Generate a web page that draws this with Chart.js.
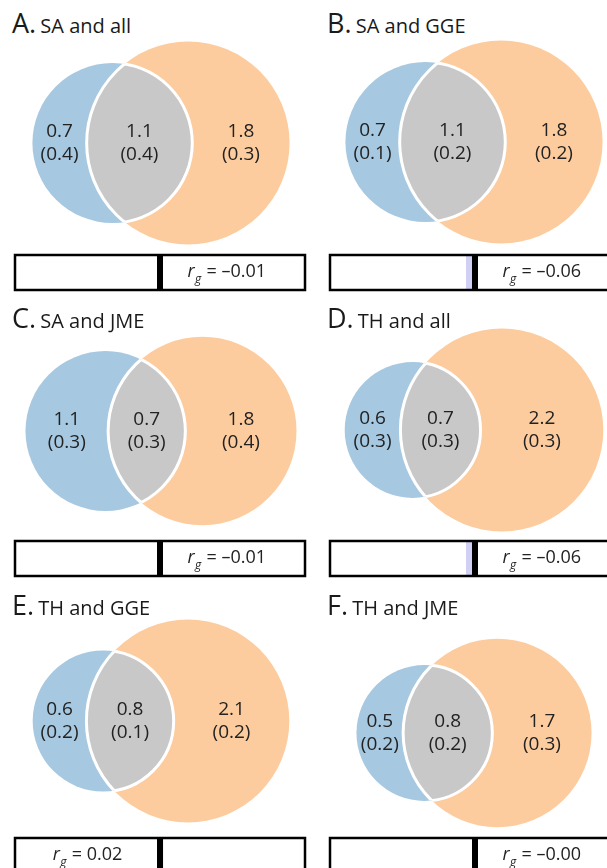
<!DOCTYPE html>
<html>
<head>
<meta charset="utf-8">
<script src="https://cdn.jsdelivr.net/npm/chart.js@4.4.1/dist/chart.umd.min.js"></script>
<style>
body { margin:0; background:#fff; font-family:"Open Sans", sans-serif; }
#fig { position:relative; width:607px; height:868px; overflow:hidden; }
.title { position:absolute; color:#1a1a1a; white-space:nowrap; line-height:30px; }
.title .letter { font-size:27px; }
.title .name { font-size:20px; }
canvas { position:absolute; }
</style>
</head>
<body>
<div id="fig"></div>
<script>
// panels
const panelLetters = ["A", "B", "C", "D", "E", "F"];
const panelNames = ["SA and all", "SA and GGE", "SA and JME", "TH and all", "TH and GGE", "TH and JME"];
// SNP heritability: unique to left trait, shared, unique to right trait
const leftOnly  = [0.7, 0.7, 1.1, 0.6, 0.6, 0.5];
const shared    = [1.1, 1.1, 0.7, 0.7, 0.8, 0.8];
const rightOnly = [1.8, 1.8, 1.8, 2.2, 2.1, 1.7];
// standard errors
const leftSE   = [0.4, 0.1, 0.3, 0.3, 0.2, 0.2];
const sharedSE = [0.4, 0.2, 0.3, 0.3, 0.1, 0.2];
const rightSE  = [0.3, 0.2, 0.4, 0.3, 0.2, 0.3];
// genetic correlation
const rgValues = [-0.01, -0.06, -0.01, -0.06, 0.02, -0.00];

// layout (pixels)
const colX = [0, 315, 0, 315, 0, 315];
const colCentre = [161, 474, 161, 474, 161, 474];
const titleBase = [33, 33, 328, 328, 615, 615];
const vennCy = [143, 142, 431, 430, 721, 733];
const boxTop = [255, 255, 541, 541, 838, 838];
const PPU = 105.6; // px per venn unit (circle area = value)

const BLUE = "rgb(166,200,224)";
const ORANGE = "rgb(253,204,158)";
const GREY = "rgb(200,200,200)";
const INK = "#222";

function lensArea(r1, r2, d) {
	if (d >= r1 + r2) return 0;
	if (d <= Math.abs(r1 - r2)) return Math.PI * Math.min(r1, r2) ** 2;
	let a1 = Math.acos((d*d + r1*r1 - r2*r2) / (2*d*r1));
	let a2 = Math.acos((d*d + r2*r2 - r1*r1) / (2*d*r2));
	return r1*r1*a1 + r2*r2*a2 - 0.5*Math.sqrt((-d+r1+r2)*(d+r1-r2)*(d-r1+r2)*(d+r1+r2));
}

function centreDistance(r1, r2, target) {
	let lo = Math.abs(r1 - r2), hi = r1 + r2;
	for (let i = 0; i < 60; i++) {
		let mid = (lo + hi) / 2;
		if (lensArea(r1, r2, mid) > target) lo = mid; else hi = mid;
	}
	return (lo + hi) / 2;
}

function fmt(v) {
	let neg = v < 0 || Object.is(v, -0);
	return (neg ? "\u2013" : "") + Math.abs(v).toFixed(2);
}

function circle(ctx, x, y, r) {
	ctx.beginPath();
	ctx.arc(x, y, r, 0, Math.PI * 2);
}

const vennPlugin = {
	id: "venn",
	afterDatasetsDraw(chart, args, o) {
		const ctx = chart.ctx, xs = chart.scales.x, ys = chart.scales.y;
		const x1 = xs.getPixelForValue(0), x2 = xs.getPixelForValue(o.d), cy = ys.getPixelForValue(0);
		const r1 = xs.getPixelForValue(o.r1) - x1;
		const r2 = xs.getPixelForValue(o.d + o.r2) - x2;
		ctx.save();
		circle(ctx, x1, cy, r1); ctx.fillStyle = BLUE; ctx.fill();
		circle(ctx, x2, cy, r2); ctx.fillStyle = ORANGE; ctx.fill();
		ctx.save();
		circle(ctx, x1, cy, r1); ctx.clip();
		circle(ctx, x2, cy, r2); ctx.fillStyle = GREY; ctx.fill();
		ctx.lineWidth = 3; ctx.strokeStyle = "#fff"; ctx.stroke();
		ctx.restore();
		ctx.save();
		circle(ctx, x2, cy, r2); ctx.clip();
		circle(ctx, x1, cy, r1);
		ctx.lineWidth = 3; ctx.strokeStyle = "#fff"; ctx.stroke();
		ctx.restore();

		const xsPos = [
			((x1 - r1) + (x2 - r2)) / 2,
			((x2 - r2) + (x1 + r1)) / 2,
			((x1 + r1) + (x2 + r2)) / 2
		];
		ctx.fillStyle = INK;
		ctx.font = "19px 'Open Sans'";
		ctx.textAlign = "center";
		ctx.textBaseline = "alphabetic";
		for (let i = 0; i < 3; i++) {
			ctx.fillText(o.values[i].toFixed(1), xsPos[i], cy - 6);
			ctx.fillText("(" + o.errors[i].toFixed(1) + ")", xsPos[i], cy + 17);
		}
		ctx.restore();
	}
};

const rgPlugin = {
	id: "rgbox",
	afterDatasetsDraw(chart, args, o) {
		const ctx = chart.ctx, a = chart.chartArea, xs = chart.scales.x;
		ctx.save();
		// zero line
		const x0 = xs.getPixelForValue(0);
		ctx.fillStyle = "#000";
		ctx.fillRect(x0 - 3, a.top, 6, a.bottom - a.top);
		// frame
		ctx.lineWidth = 2.5;
		ctx.strokeStyle = "#000";
		ctx.strokeRect(a.left, a.top, a.right - a.left, a.bottom - a.top);
		// label on the opposite side of the bar
		const v = o.value;
		const neg = v < 0 || Object.is(v, -0);
		const cx = xs.getPixelForValue(neg ? 0.46 : -0.5);
		const base = a.top + 22;
		const rest = " = " + fmt(v);
		ctx.fillStyle = INK;
		ctx.textBaseline = "alphabetic";
		ctx.textAlign = "left";
		ctx.font = "italic 18px 'Open Sans'";
		const wr = ctx.measureText("r").width;
		ctx.font = "italic 12px 'Open Sans'";
		const wg = ctx.measureText("g").width;
		ctx.font = "18px 'Open Sans'";
		const wrest = ctx.measureText(rest).width;
		let x = cx - (wr + wg + 1 + wrest) / 2;
		ctx.font = "italic 18px 'Open Sans'";
		ctx.fillText("r", x, base);
		x += wr + 0.5;
		ctx.font = "italic 12px 'Open Sans'";
		ctx.fillText("g", x, base + 6);
		x += wg + 0.5;
		ctx.font = "18px 'Open Sans'";
		ctx.fillText(rest, x, base);
		ctx.restore();
	}
};

const fig = document.getElementById("fig");

for (let p = 0; p < 6; p++) {
	// title
	const t = document.createElement("div");
	t.className = "title";
	t.innerHTML = '<span class="letter">' + panelLetters[p] + '.</span> <span class="name">' + panelNames[p] + '</span>';
	t.style.left = (colX[p] + 12) + "px";
	t.style.top = (titleBase[p] - 25) + "px";
	fig.appendChild(t);

	// venn geometry in area units
	const r1 = Math.sqrt((leftOnly[p] + shared[p]) / Math.PI);
	const r2 = Math.sqrt((rightOnly[p] + shared[p]) / Math.PI);
	const d = centreDistance(r1, r2, shared[p]);
	const mid = (d + r2 - r1) / 2;
	const W = 320, H = 240;
	const localCx = colCentre[p] - colX[p];
	const vc = document.createElement("canvas");
	vc.width = W; vc.height = H;
	vc.style.left = colX[p] + "px";
	vc.style.top = (vennCy[p] - H / 2) + "px";
	fig.appendChild(vc);
	new Chart(vc, {
		type: "scatter",
		data: { datasets: [{ data: [{ x: 0, y: 0 }, { x: d, y: 0 }], pointRadius: 0 }] },
		options: {
			animation: false, responsive: false, maintainAspectRatio: false,
			layout: { padding: 0 },
			events: [],
			plugins: {
				legend: { display: false }, tooltip: { enabled: false },
				venn: {
					r1: r1, r2: r2, d: d,
					values: [leftOnly[p], shared[p], rightOnly[p]],
					errors: [leftSE[p], sharedSE[p], rightSE[p]]
				}
			},
			scales: {
				x: { display: false, min: mid - localCx / PPU, max: mid + (W - localCx) / PPU },
				y: { display: false, min: -H / 2 / PPU, max: H / 2 / PPU }
			}
		},
		plugins: [vennPlugin]
	});

	// genetic correlation bar
	const bc = document.createElement("canvas");
	bc.width = 296; bc.height = 40;
	bc.style.left = (colX[p] + 12) + "px";
	bc.style.top = (boxTop[p] - 3) + "px";
	fig.appendChild(bc);
	new Chart(bc, {
		type: "bar",
		data: { labels: ["rg"], datasets: [{ data: [rgValues[p]], backgroundColor: "rgb(208,208,244)", barPercentage: 1, categoryPercentage: 1 }] },
		options: {
			indexAxis: "y",
			animation: false, responsive: false, maintainAspectRatio: false,
			layout: { padding: { left: 3, right: 3, top: 3, bottom: 2 } },
			events: [],
			plugins: { legend: { display: false }, tooltip: { enabled: false }, rgbox: { value: rgValues[p] } },
			scales: {
				x: { display: false, min: -1, max: 1 },
				y: { display: false }
			}
		},
		plugins: [rgPlugin]
	});
}
</script>
</body>
</html>
